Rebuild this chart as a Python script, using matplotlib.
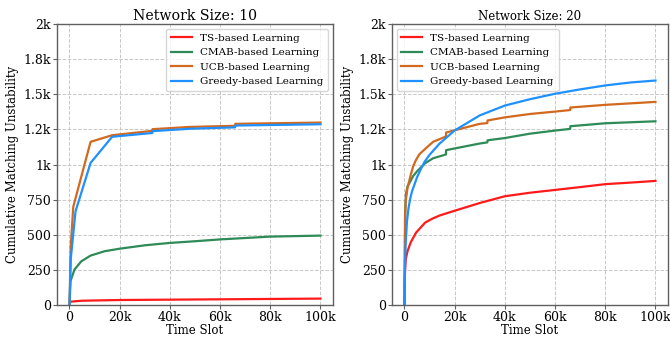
import matplotlib
matplotlib.use("Agg")
import matplotlib.pyplot as plt
from matplotlib.ticker import FuncFormatter, MultipleLocator

plt.rcParams["font.family"] = ["DejaVu Serif"]

labels = ["TS-based Learning", "CMAB-based Learning", "UCB-based Learning", "Greedy-based Learning"]
colors = ["#ff1a1a", "#2e8b57", "#d2691e", "#1e90ff"]

# Network size 10: (time slot, cumulative unstability)
ts10_t = [0, 300, 5000, 20000, 60000, 100000]
ts10_v = [0, 25, 32, 37, 42, 47]
cmab10_t = [0, 400, 2000, 4700, 8400, 14000, 20000, 30000, 40000, 50000, 60000, 70000, 80000, 100000]
cmab10_v = [0, 172, 254, 312, 353, 384, 402, 426, 443, 455, 468, 478, 488, 495]
ucb10_t = [0, 500, 1500, 8400, 17000, 33000, 33100, 48000, 66000, 66100, 100000]
ucb10_v = [0, 420, 700, 1162, 1209, 1240, 1252, 1268, 1276, 1290, 1299]
greedy10_t = [0, 500, 2400, 8400, 17000, 33000, 33100, 48000, 66000, 66100, 100000]
greedy10_v = [0, 330, 667, 1012, 1198, 1225, 1238, 1255, 1265, 1278, 1287]

# Network size 20
ts20_t = [0, 100, 200, 500, 1200, 2500, 4600, 8200, 11000, 14000, 20000, 30000, 40000, 50000,
          60000, 70000, 80000, 90000, 100000]
ts20_v = [0, 160, 234, 326, 384, 448, 516, 587, 615, 638, 672, 727, 775, 800,
          820, 840, 861, 872, 884]
cmab20_t = [0, 300, 600, 1200, 2300, 3500, 5000, 8200, 11400, 16500, 16600, 20000, 30000, 33000,
            33100, 40000, 50000, 60000, 66000, 66100, 80000, 100000]
cmab20_v = [0, 680, 790, 845, 880, 920, 952, 1010, 1045, 1072, 1103, 1115, 1150, 1158,
            1173, 1189, 1220, 1242, 1254, 1273, 1294, 1308]
ucb20_t = [0, 200, 500, 1200, 2500, 3500, 4600, 6000, 8200, 11400, 16500, 16600, 20000, 30000,
           33000, 33100, 40000, 50000, 60000, 66000, 66100, 80000, 100000]
ucb20_v = [0, 620, 745, 835, 928, 990, 1034, 1075, 1111, 1162, 1200, 1228, 1244, 1290,
           1295, 1314, 1336, 1360, 1377, 1388, 1406, 1425, 1446]
greedy20_t = [0, 200, 500, 1000, 1600, 2300, 3000, 4000, 5000, 6300, 8000, 10000, 14000, 20000,
              30000, 40000, 50000, 60000, 70000, 80000, 90000, 100000]
greedy20_v = [0, 300, 450, 600, 690, 760, 810, 860, 910, 960, 1020, 1070, 1150, 1243,
              1350, 1420, 1465, 1504, 1535, 1563, 1584, 1598]


def kfmt(x, pos):
    if abs(x) >= 1000:
        s = "{:.1f}".format(x / 1000)
        if s.endswith(".0"):
            s = s[:-2]
        return s + "k"
    return "{:d}".format(int(round(x)))


fig = plt.figure(figsize=(6.7, 3.38), dpi=100)
ax1 = fig.add_axes([0.085, 0.097, 0.412, 0.832])
ax2 = fig.add_axes([0.585, 0.097, 0.412, 0.832])

panels = [
    (ax1, "Network Size: 10", 10.2,
     [(ts10_t, ts10_v), (cmab10_t, cmab10_v), (ucb10_t, ucb10_v), (greedy10_t, greedy10_v)],
     "upper right"),
    (ax2, "Network Size: 20", 8.5,
     [(ts20_t, ts20_v), (cmab20_t, cmab20_v), (ucb20_t, ucb20_v), (greedy20_t, greedy20_v)],
     "upper left"),
]

for ax, title, tsize, series, loc in panels:
    for (t, v), lab, c in zip(series, labels, colors):
        ax.plot(t, v, color=c, lw=1.6, label=lab)
    ax.set_ylim(0, 2000)
    ax.set_xlim(-5000, 105000)
    ax.yaxis.set_major_locator(MultipleLocator(250))
    ax.xaxis.set_major_locator(MultipleLocator(20000))
    ax.xaxis.set_major_formatter(FuncFormatter(kfmt))
    ax.yaxis.set_major_formatter(FuncFormatter(kfmt))
    ax.grid(True, ls="--", color="#c8c8c8", lw=0.7)
    ax.set_axisbelow(True)
    for sp in ax.spines.values():
        sp.set_color("#606060")
        sp.set_linewidth(1.0)
    ax.tick_params(labelsize=9, length=3, color="#606060", pad=1.5)
    ax.set_title(title, fontsize=tsize, pad=3)
    ax.set_xlabel("Time Slot", fontsize=8.5, labelpad=0)
    ax.set_ylabel("Cumulative Matching Unstability", fontsize=8.5, labelpad=3)
    ax.legend(loc=loc, fontsize=7.5, handlelength=2.0, borderpad=0.45,
              labelspacing=0.5, borderaxespad=0.45)

fig.savefig("out.png", dpi=100)
